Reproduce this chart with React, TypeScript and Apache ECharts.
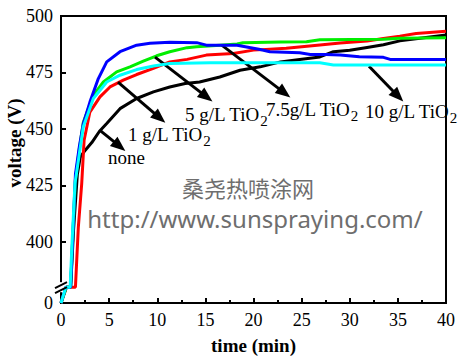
import React, { useEffect, useRef } from "react";
import * as echarts from "echarts";

// ---- data (time in min, voltage in V) ----
const timeNone = [0, 0.55, 1.0, 1.3, 1.7, 2.0, 2.5, 3.2, 4.0, 4.75, 6.13, 7.86, 9.6, 11.3, 12.9, 14.4, 16.5, 18.6, 20.7, 22.8, 24.8, 26.9, 28.3, 30, 31.8, 33.5, 35.2, 37.5, 40];
const voltNone = [0, 20, 20, 405, 430, 437.5, 440.5, 444, 449, 452.4, 459, 463.5, 466.4, 468.6, 470.1, 470.8, 473, 476, 477.5, 479.7, 480.8, 481.9, 484.2, 484.8, 486.1, 487.3, 489, 490.3, 491.6];

const time1g = [0, 0.55, 1.5, 1.8, 2.15, 2.4, 3.0, 4.05, 5.09, 6.47, 7.86, 9.6, 11.3, 13.1, 15.1, 17.9, 20, 23.4, 26.9, 29, 31.8, 33.5, 35.2, 36.9, 40];
const volt1g = [0, 20, 20, 406.5, 425.7, 445, 457.5, 464.2, 468.6, 471.6, 474.1, 476.8, 479.7, 480.8, 482.7, 483.4, 484.9, 485.7, 487.2, 488, 488.9, 490, 491.1, 492.3, 493.3];

const time5g = [0, 0.55, 1.0, 1.2, 1.5, 1.9, 2.32, 3.36, 4.4, 5.78, 7.17, 8.55, 9.94, 11.3, 13.1, 14.1, 16.5, 18.3, 18.9, 22.8, 25.5, 26.9, 33.5, 35.2, 40];
const volt5g = [0, 20, 20, 400, 428, 441, 453, 464.9, 470.8, 475.3, 477.5, 480, 482.4, 484.2, 486, 486.4, 487.1, 487.6, 488.2, 488.5, 488.6, 489.5, 489.7, 490.1, 490.4];

const time75g = [0, 0.5, 1.0, 1.2, 1.5, 1.9, 2.32, 3.01, 3.88, 4.75, 6.13, 7.86, 9.25, 11.3, 14.1, 15.1, 18.3, 20.7, 21.7, 24.8, 25.9, 27.5, 29, 31, 33.5, 34.2, 40];
const volt75g = [0, 20, 20, 400, 430, 442, 452.4, 462, 472.3, 479.7, 484.2, 487.1, 487.9, 488.4, 488.2, 487.1, 487.1, 485.2, 484.2, 483.7, 483, 483, 482.7, 482, 481.7, 480.8, 480.8];

const time10g = [0, 0.5, 0.95, 1.15, 1.45, 1.8, 2.32, 3.36, 4.75, 6.13, 7.86, 9.6, 11.3, 15.5, 26.9, 28.3, 40];
const volt10g = [0, 20, 20, 400, 425.7, 436, 451, 463.5, 470.8, 473.8, 476.3, 477.9, 479, 479.3, 479.3, 478.3, 478.3];

const seriesNames = ["none", "1 g/L TiO2", "5 g/L TiO2", "7.5g/L TiO2", "10 g/L TiO2"];
const seriesColors = ["#000000", "#ff0000", "#00ee00", "#0000ff", "#00ffff"];

// y axis tick labels (broken axis: 0, then 400..500)
const yTickValues = [0, 400, 425, 450, 475, 500];
const xTickInterval = 5;

// annotations: label text, label anchor (left, middle) in data coords, arrow start/end in data coords
const labelMain = ["none", "1 g/L TiO", "5 g/L TiO", "7.5g/L TiO", "10 g/L TiO"];
const labelSub = ["", "2", "2", "2", "2"];
const labelT = [4.88, 6.96, 12.88, 21.3, 31.58];
const labelV = [437.4, 447.6, 456.5, 458.7, 457.8];
const arrowFromT = [4.05, 5.92, 9.77, 16.7, 32.0];
const arrowFromV = [449.4, 470.7, 481.8, 487.1, 477.8];
const arrowToT = [6.08, 10.25, 15.12, 23.21, 35.02];
const arrowToV = [442.4, 454.9, 464.2, 466.0, 464.5];

const yTitle = "voltage (V)";
const xTitle = "time (min)";
const watermarkCn = "桑尧热喷涂网";
const watermarkUrl = "http://www.sunspraying.com/";

// ---- broken axis mapping ----
const AXIS_MIN = 373;
const BREAK_AT = 380;
const LOW_MAX = 20;
const toAxis = (v: number) =>
  v >= BREAK_AT ? v : AXIS_MIN + (v / LOW_MAX) * (BREAK_AT - AXIS_MIN);

const SERIF = '"Liberation Serif", "Times New Roman", serif';

function measure(text: string, font: string) {
  const c = document.createElement("canvas").getContext("2d");
  if (!c) return text.length * 9;
  c.font = font;
  return c.measureText(text).width;
}

export default function App() {
  const ref = useRef<HTMLDivElement>(null);
  useEffect(() => {
    if (!ref.current) return;
    const chart = echarts.init(ref.current, undefined, { renderer: "svg" });
    const times = [timeNone, time1g, time5g, time75g, time10g];
    const volts = [voltNone, volt1g, volt5g, volt75g, volt10g];

    const series: any[] = seriesNames.map((name, i) => ({
      name,
      type: "line",
      data: times[i].map((t, k) => [t, toAxis(volts[i][k])]),
      showSymbol: false,
      symbol: "none",
      smooth: false,
      lineStyle: { color: seriesColors[i], width: 3 },
      itemStyle: { color: seriesColors[i] },
      z: 2 + i,
    }));
    series.push({
      name: "arrows",
      type: "line",
      data: [],
      z: 10,
      markLine: {
        silent: true,
        symbol: ["none", "triangle"],
        symbolSize: [12, 15],
        label: { show: false },
        lineStyle: { color: "#000", width: 3, type: "solid" },
        itemStyle: { color: "#000" },
        emphasis: { disabled: true },
        data: arrowFromT.map((t, i) => [
          { coord: [t, toAxis(arrowFromV[i])] },
          { coord: [arrowToT[i], toAxis(arrowToV[i])] },
        ]),
      },
    });

    const yCustom = yTickValues.map((v) => toAxis(v));

    chart.setOption({
      animation: false,
      backgroundColor: "#fff",
      grid: {
        left: 61,
        right: 19,
        top: 16,
        bottom: 60,
        containLabel: false,
        outerBoundsMode: "none",
        show: true,
        borderColor: "#000",
        borderWidth: 2,
        backgroundColor: "transparent",
      },
      xAxis: {
        type: "value",
        min: 0,
        max: 40,
        interval: xTickInterval,
        name: xTitle,
        nameLocation: "middle",
        nameGap: 33,
        nameTextStyle: { fontFamily: SERIF, fontSize: 19, fontWeight: "bold", color: "#000" },
        axisLine: { lineStyle: { color: "#000", width: 2 } },
        axisTick: { inside: true, length: 5, lineStyle: { color: "#000", width: 2 } },
        minorTick: { show: true, splitNumber: 2, length: 3, lineStyle: { color: "#000", width: 2 } },
        splitLine: { show: false },
        minorSplitLine: { show: false },
        axisLabel: { fontFamily: SERIF, fontSize: 18, color: "#000", margin: 8 },
      },
      yAxis: {
        type: "value",
        min: AXIS_MIN,
        max: 500,
        axisLine: { lineStyle: { color: "#000", width: 2 } },
        axisTick: { inside: true, length: 5, customValues: yCustom, lineStyle: { color: "#000", width: 2 } },
        splitLine: { show: false },
        axisLabel: {
          fontFamily: SERIF,
          fontSize: 18,
          color: "#000",
          margin: 8,
          customValues: yCustom,
          formatter: (v: number) => (v === AXIS_MIN ? "0" : String(Math.round(v))),
        },
      },
      series,
    });

    // graphics: y title, axis break, annotation labels, watermark
    const x0 = chart.convertToPixel({ xAxisIndex: 0 }, 0) as number;
    const yb = chart.convertToPixel({ yAxisIndex: 0 }, BREAK_AT) as number;
    const labelFont = `19px ${SERIF}`;
    const graphics: any[] = [
      {
        type: "text",
        x: 14,
        y: 143,
        rotation: Math.PI / 2,
        z: 60,
        style: {
          text: yTitle,
          font: `bold 19px ${SERIF}`,
          fill: "#000",
          align: "center",
          verticalAlign: "middle",
          textAlign: "center",
          textVerticalAlign: "middle",
        },
      },
      {
        type: "rect",
        shape: { x: x0 - 3, y: yb - 5, width: 5, height: 10 },
        style: { fill: "#fff" },
        z: 100,
      },
      {
        type: "line",
        shape: { x1: x0 - 6, y1: yb + 1, x2: x0 + 6, y2: yb - 5 },
        style: { stroke: "#000", lineWidth: 2 },
        z: 101,
      },
      {
        type: "line",
        shape: { x1: x0 - 6, y1: yb + 6, x2: x0 + 6, y2: yb },
        style: { stroke: "#000", lineWidth: 2 },
        z: 101,
      },
      {
        type: "text",
        x: 248,
        y: 187,
        z: 50,
        style: {
          text: watermarkCn,
          font: '22px "Noto Sans CJK SC", sans-serif',
          lineHeight: 22,
          fill: "#6e6e6e",
          align: "center",
          verticalAlign: "middle",
          textAlign: "center",
          textVerticalAlign: "middle",
        },
      },
      {
        type: "text",
        x: 255,
        y: 218,
        z: 50,
        style: {
          text: watermarkUrl,
          font: '24px "Noto Sans", sans-serif',
          lineHeight: 24,
          fill: "#6e6e6e",
          align: "center",
          verticalAlign: "middle",
          textAlign: "center",
          textVerticalAlign: "middle",
        },
      },
    ];
    labelMain.forEach((txt, i) => {
      const p = chart.convertToPixel({ xAxisIndex: 0, yAxisIndex: 0 }, [labelT[i], toAxis(labelV[i])]) as number[];
      graphics.push({
        type: "text",
        x: p[0],
        y: p[1],
        z: 60,
        style: {
          text: txt,
          font: labelFont,
          fill: "#000",
          align: "left",
          verticalAlign: "middle",
          textAlign: "left",
          textVerticalAlign: "middle",
        },
      });
      if (labelSub[i]) {
        const w = measure(txt, labelFont);
        graphics.push({
          type: "text",
          x: p[0] + w,
          y: p[1] + 7,
          z: 60,
          style: {
            text: labelSub[i],
            font: `15px ${SERIF}`,
            fill: "#000",
            align: "left",
            verticalAlign: "middle",
            textAlign: "left",
            textVerticalAlign: "middle",
          },
        });
      }
    });
    chart.setOption({ graphic: graphics });

    return () => chart.dispose();
  }, []);
  return (
    <div
      ref={ref}
      style={{ position: "absolute", left: 0, top: 0, width: 465, height: 363, background: "#fff" }}
    />
  );
}
